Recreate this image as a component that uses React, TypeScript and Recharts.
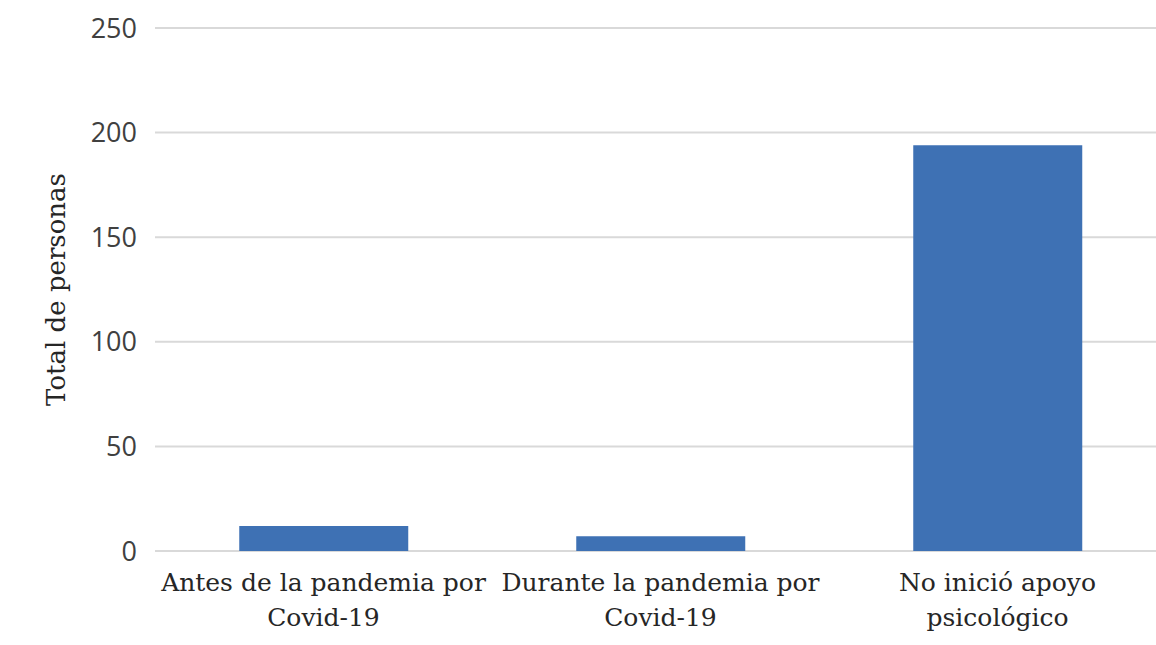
import { BarChart, Bar, XAxis, YAxis, CartesianGrid, Label } from "recharts";

const categories = [
  "Antes de la pandemia por\nCovid-19",
  "Durante la pandemia por\nCovid-19",
  "No inició apoyo\npsicológico",
];
const totals = [12, 7, 194];
const yTicks = [0, 50, 100, 150, 200, 250];

const data = categories.map((name, i) => ({ name, total: totals[i] }));

const serif = "'DejaVu Serif', serif";
const sans = "'Open Sans', sans-serif";

function CategoryTick({ x, y, payload }: any) {
  const lines = String(payload.value).split("\n");
  return (
    <text x={x} y={y} textAnchor="middle" fill="#262626" fontFamily={serif} fontSize={25}>
      {lines.map((line, i) => (
        <tspan key={i} x={x} dy={i === 0 ? 32 : 35}>
          {line}
        </tspan>
      ))}
    </text>
  );
}

export default function App() {
  return (
    <div
      style={{
        position: "fixed",
        left: 0,
        top: 0,
        width: 1156,
        height: 645,
        overflow: "hidden",
        background: "#fff",
      }}
    >
      <BarChart
        width={1166}
        height={645}
        data={data}
        margin={{ top: 28, right: 0, bottom: 0, left: 0 }}
        barCategoryGap="25%"
      >
        <CartesianGrid stroke="#d9d9d9" strokeWidth={2} vertical={false} />
        <XAxis
          dataKey="name"
          axisLine={false}
          tickLine={false}
          height={94}
          interval={0}
          tick={<CategoryTick />}
        />
        <YAxis
          width={155}
          domain={[0, 250]}
          ticks={yTicks}
          axisLine={false}
          tickLine={false}
          tickMargin={12}
          tick={{ fontFamily: sans, fontSize: 27, fill: "#404040" }}
        >
          <Label
            value="Total de personas"
            angle={-90}
            position="insideLeft"
            offset={56}
            style={{ textAnchor: "middle", fontFamily: serif, fontSize: 26, fill: "#262626" }}
          />
        </YAxis>
        <Bar dataKey="total" fill="#3e71b4" isAnimationActive={false} />
      </BarChart>
    </div>
  );
}
